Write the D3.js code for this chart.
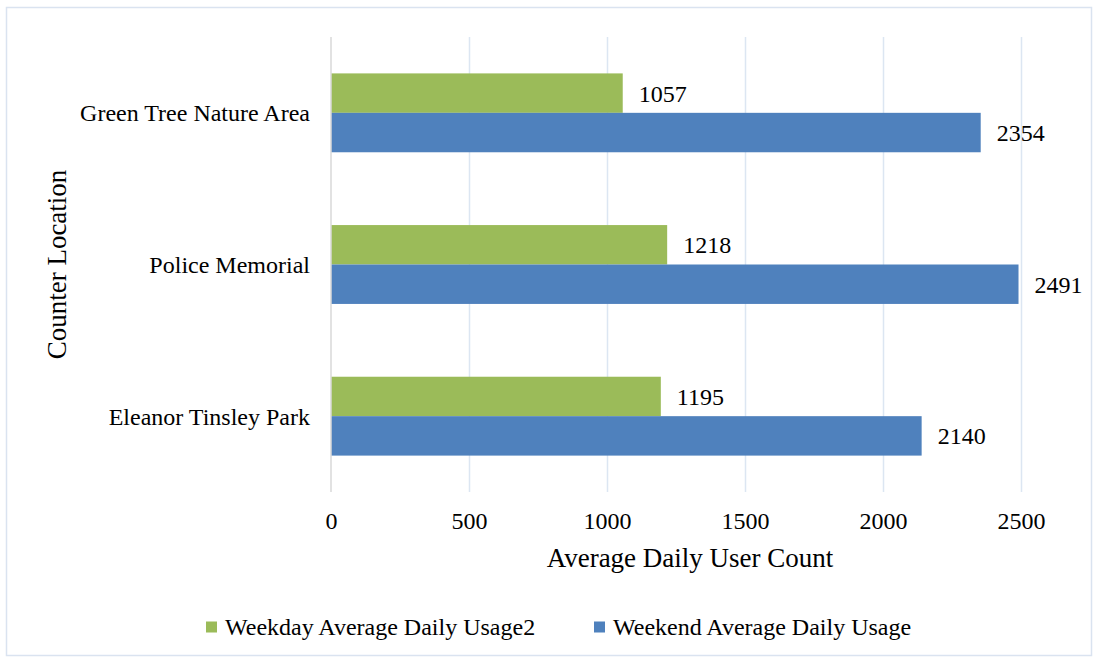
<!DOCTYPE html>
<meta charset="utf-8">
<style>
  body { margin: 0; background: #fff; }
  svg text { font-family: "Liberation Serif", "Times New Roman", serif; fill: #000; }
</style>
<svg width="1094" height="658"></svg>
<script src="https://cdn.jsdelivr.net/npm/d3@7"></script>
<script>

// data
var locations = ["Green Tree Nature Area", "Police Memorial", "Eleanor Tinsley Park"];
var seriesNames = ["Weekday Average Daily Usage2", "Weekend Average Daily Usage"];
var weekday = [1057, 1218, 1195];
var weekend = [2354, 2491, 2140];
var xTicks = [0, 500, 1000, 1500, 2000, 2500];
var colors = ["#9bbb59", "#4f81bd"];

var svg = d3.select("svg");

// outer frame
svg.append("rect")
    .attr("x", 6.5).attr("y", 7.5)
    .attr("width", 1085).attr("height", 648)
    .attr("fill", "#fff")
    .attr("stroke", "#dae3f0")
    .attr("stroke-width", 1.5);

var plotL = 331, plotR = 1021, plotT = 37, plotB = 492;

var x = d3.scaleLinear()
    .domain([0, 2500])
    .range([plotL, plotR]);

var p = 0.48;
var y = d3.scaleBand()
    .domain(locations)
    .range([plotT, plotB])
    .paddingInner(p)
    .paddingOuter(p / 2);

var ySub = d3.scaleBand()
    .domain([0, 1])
    .range([0, y.bandwidth()]);

// gridlines
svg.append("g")
  .selectAll("line")
  .data(xTicks.slice(1))
  .enter().append("line")
    .attr("x1", function(d) { return x(d) + 0.5; })
    .attr("x2", function(d) { return x(d) + 0.5; })
    .attr("y1", plotT)
    .attr("y2", plotB)
    .attr("stroke", "#dce6f2")
    .attr("stroke-width", 1.5);

// value axis
var xAxis = svg.append("g")
    .attr("transform", "translate(0," + plotB + ")")
    .call(d3.axisBottom(x).tickValues(xTicks).tickFormat(d3.format("d")).tickSize(0).tickPadding(20));
xAxis.select(".domain").remove();
xAxis.selectAll("text")
    .attr("font-size", 24)
    .attr("font-family", "Liberation Serif");

// bars
var rows = locations.map(function(loc, i) {
  return { loc: loc, vals: [weekday[i], weekend[i]] };
});

var groups = svg.append("g")
  .selectAll("g")
  .data(rows)
  .enter().append("g")
    .attr("transform", function(d) { return "translate(0," + y(d.loc) + ")"; });

groups.selectAll("rect")
  .data(function(d) { return d.vals; })
  .enter().append("rect")
    .attr("x", x(0))
    .attr("y", function(d, i) { return ySub(i); })
    .attr("width", function(d) { return x(d) - x(0); })
    .attr("height", ySub.bandwidth())
    .attr("fill", function(d, i) { return colors[i]; });

groups.selectAll("text")
  .data(function(d) { return d.vals; })
  .enter().append("text")
    .attr("x", function(d) { return x(d) + 16; })
    .attr("y", function(d, i) { return ySub(i) + ySub.bandwidth() / 2; })
    .attr("dy", "0.35em")
    .attr("font-size", 24)
    .text(function(d) { return d; });

// category axis line
svg.append("line")
    .attr("x1", x(0)).attr("x2", x(0))
    .attr("y1", plotT).attr("y2", plotB)
    .attr("stroke", "#d9d9d9")
    .attr("stroke-width", 1.5);

svg.append("g")
  .selectAll("text")
  .data(locations)
  .enter().append("text")
    .attr("x", 310)
    .attr("y", function(d) { return y(d) + y.bandwidth() / 2; })
    .attr("dy", "0.35em")
    .attr("text-anchor", "end")
    .attr("font-size", 24)
    .text(function(d) { return d; });

// axis titles
svg.append("text")
    .attr("x", 690)
    .attr("y", 558)
    .attr("dy", "0.35em")
    .attr("text-anchor", "middle")
    .attr("font-size", 27)
    .text("Average Daily User Count");

svg.append("text")
    .attr("transform", "translate(57," + (plotT + plotB) / 2 + ") rotate(-90)")
    .attr("dy", "0.35em")
    .attr("text-anchor", "middle")
    .attr("font-size", 27)
    .text("Counter Location");

// legend
var legendX = [206, 594];
var legend = svg.append("g")
  .selectAll("g")
  .data(seriesNames)
  .enter().append("g")
    .attr("transform", function(d, i) { return "translate(" + legendX[i] + ",627)"; });

legend.append("rect")
    .attr("x", 0).attr("y", -5.5)
    .attr("width", 11).attr("height", 11)
    .attr("fill", function(d, i) { return colors[i]; });

legend.append("text")
    .attr("x", 19)
    .attr("dy", "0.35em")
    .attr("font-size", 24)
    .text(function(d) { return d; });

</script>
